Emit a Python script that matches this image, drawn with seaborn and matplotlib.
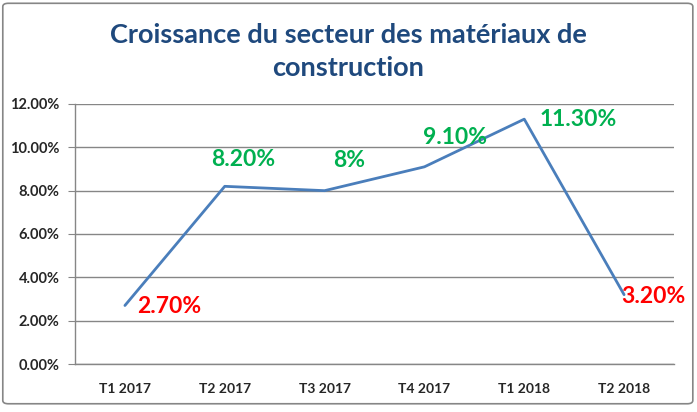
import matplotlib
matplotlib.use("Agg")
import matplotlib.pyplot as plt
from matplotlib.patches import FancyBboxPatch
from matplotlib.ticker import FuncFormatter, FixedLocator
import seaborn as sns
import pandas as pd

# data
quarters = ["T1 2017", "T2 2017", "T3 2017", "T4 2017", "T1 2018", "T2 2018"]
growth = [2.7, 8.2, 8.0, 9.1, 11.3, 3.2]
point_labels = ["2.70%", "8.20%", "8%", "9.10%", "11.30%", "3.20%"]
label_colors = ["#FF0000", "#00B050", "#00B050", "#00B050", "#00B050", "#FF0000"]
# label offsets in points (dx, dy) and horizontal alignment
label_offsets = [(9, -1, "left"), (13, 19, "center"), (18, 22, "center"),
                 (22, 21, "center"), (11, 0, "left"), (-2, -1, "left")]

df = pd.DataFrame({"pos": range(len(quarters)), "growth": growth})

sns.set_style("white")
plt.rcParams["font.family"] = ["Lato", "DejaVu Sans"]

fig = plt.figure(figsize=(6.97, 4.12), dpi=100)
ax = fig.add_axes([0.1076, 0.1165, 0.8594, 0.6311])

sns.lineplot(data=df, x="pos", y="growth", color="#4A7EBB", linewidth=2.0, ax=ax)

for i, (lab, col, (dx, dy, ha)) in enumerate(zip(point_labels, label_colors, label_offsets)):
    ax.annotate(lab, (i, growth[i]), xytext=(dx, dy), textcoords="offset points",
                ha=ha, va="center", color=col, fontsize=16.5, fontweight="bold")

ax.set_xlim(-0.5, len(quarters) - 0.5)
ax.set_ylim(0, 12)
ax.set_yticks([0, 2, 4, 6, 8, 10, 12])
ax.yaxis.set_major_formatter(FuncFormatter(lambda v, p: f"{v:.2f}%"))
ax.set_xticks(range(len(quarters)))
ax.set_xticklabels(quarters)
ax.xaxis.set_minor_locator(FixedLocator([k - 0.5 for k in range(len(quarters) + 1)]))
ax.tick_params(axis="x", which="major", length=0, pad=14, labelsize=10)
ax.tick_params(axis="x", which="minor", length=5, color="#868686", direction="out")
ax.tick_params(axis="y", length=5, color="#868686", direction="out", pad=6, labelsize=10.5, left=True)
for t in ax.get_xticklabels() + ax.get_yticklabels():
    t.set_fontweight("bold")

ax.grid(axis="y", color="#868686", linewidth=1.0)
ax.set_axisbelow(True)
for side in ["top", "right"]:
    ax.spines[side].set_visible(False)
for side in ["left", "bottom"]:
    ax.spines[side].set_color("#868686")
    ax.spines[side].set_linewidth(1.0)
ax.set_xlabel("")
ax.set_ylabel("")

fig.text(0.5, 0.874, "Croissance du secteur des matériaux de\nconstruction",
         ha="center", va="center", fontsize=19.5, fontweight="bold",
         color="#1F497D", linespacing=1.45)

border = FancyBboxPatch((0.004, 0.02), 0.99, 0.972, boxstyle="round,pad=0,rounding_size=0.008",
                        transform=fig.transFigure, fill=False, edgecolor="#868686", linewidth=1.2)
fig.patches.append(border)

fig.savefig("out.png", dpi=100)
